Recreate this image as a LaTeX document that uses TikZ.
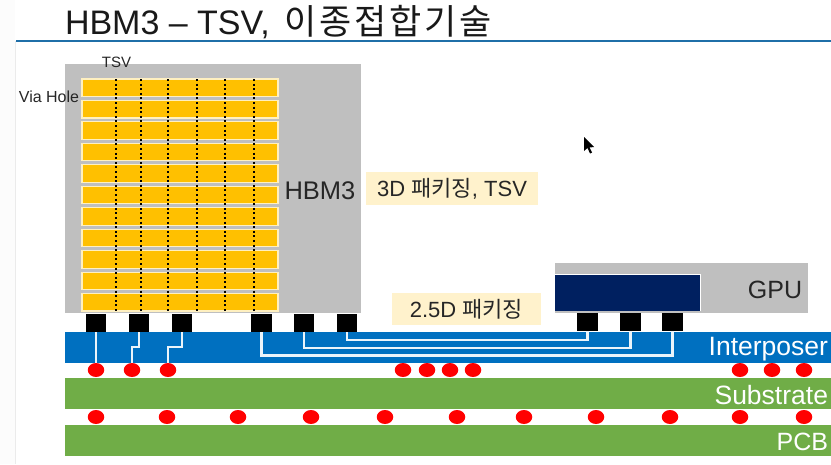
\documentclass[tikz,border=0pt]{standalone}
\usepackage{fontspec}
\setmainfont{Liberation Sans}
\newfontfamily\kr{Noto Sans CJK KR}
\newfontfamily\krw[LetterSpace=8]{Noto Sans CJK KR}
\usetikzlibrary{calc,shapes.geometric}
\definecolor{grayblk}{HTML}{BFBFBF}
\definecolor{gold}{HTML}{FFC000}
\definecolor{goldedge}{HTML}{FFF0C0}
\definecolor{interp}{HTML}{0070C0}
\definecolor{leaf}{HTML}{70AD47}
\definecolor{navy}{HTML}{002060}
\definecolor{cream}{HTML}{FFF2CC}
\definecolor{rule}{HTML}{1F6FA8}
\tikzset{
  plain/.style={inner sep=0pt,outer sep=0pt},
  bump/.style={plain,rectangle,fill=black,minimum width=20.5pt,minimum height=18pt},
  ball/.style={plain,ellipse,fill=red,minimum width=16.5pt,minimum height=14pt},
  wire/.style={draw=white!92!interp,line width=2.2pt},
  tsv/.style={draw=black,line width=2pt,dash pattern=on 2pt off 2.6pt},
  cellrow/.style={draw=goldedge,line width=1.1pt,fill=gold},
  tag/.style={plain,rectangle,fill=cream,text=black!85},
  lab/.style={plain,text=black!85},
  layerlab/.style={plain,anchor=east,text=white,font=\fontsize{26.5}{28}\selectfont}
}
\newcommand{\boxat}[5]{\fill[#5] (#1,#2) rectangle (#3,#4);}
\begin{document}
\begin{tikzpicture}[x=1pt,y=-1pt]
\useasboundingbox (0,0) rectangle (831,464);
\fill[white] (0,0) rectangle (831,464);
\fill[black!1] (0,0) rectangle (15,464);
\draw[black!8,line width=0.8pt] (15.5,41) -- (15.5,464);
% title
\node[plain,anchor=base west,text=black!90,font=\fontsize{34}{38}\selectfont] (title) at (65,34) {HBM3 – TSV,\hspace{15pt}{\krw\fontsize{35}{38}\selectfont 이종접합기술}};
\coordinate (ruleL) at (16,41);
\coordinate (ruleR) at (831,41);
\draw[rule,line width=1.6pt] (ruleL) -- (ruleR);
% HBM block
\boxat{65}{64}{361}{313}{grayblk}
\foreach \y in {79,100.45,...,295}{
  \path[cellrow] (82,\y) rectangle (278,\y+17.5);
}
\foreach \x in {116,141,168,197,225,254}{
  \draw[tsv] (\x,79) -- (\x,312);
}
\node[lab,anchor=center,font=\fontsize{15}{18}\selectfont] (tsvlab) at (116.5,62.5) {TSV};
\node[lab,anchor=center,font=\fontsize{16}{18}\selectfont] (vialab) at (49,97) {Via Hole};
\node[lab,anchor=center,font=\fontsize{25.5}{28}\selectfont] (hbm) at (320,191) {HBM3};
% GPU
\boxat{555}{263}{808}{313}{grayblk}
\fill[navy] (555,274) rectangle (700,311);
\draw[white,line width=0.7pt] (555,274) -- (700,274) -- (700,311);
\node[lab,anchor=center,font=\fontsize{25}{28}\selectfont] (gpu) at (775,289.5) {GPU};
% tags
\node[tag,minimum width=172pt,minimum height=33pt,font=\fontsize{22}{24}\selectfont] (tag3d) at (452,188.5) {3D {\kr 패키징}, TSV};
\node[tag,minimum width=149pt,minimum height=32pt,font=\fontsize{22}{24}\selectfont] (tag25) at (466.5,309) {2.5D {\kr 패키징}};
% layers
\fill[interp] (65,332) rectangle (831,363);
\fill[leaf] (65,378) rectangle (831,409);
\fill[leaf] (65,425) rectangle (831,456);
\node[layerlab] (li) at (828,349.5) {Interposer};
\node[layerlab] (ls) at (828,395.5) {Substrate};
\node[layerlab,font=\fontsize{25}{28}\selectfont] (lp) at (828,442) {PCB};
% micro bumps
\node[bump] (b1) at (96,323) {};
\node[bump] (b2) at (139,323) {};
\node[bump] (b3) at (182,323) {};
\node[bump] (b4) at (261.5,323) {};
\node[bump] (b5) at (304,323) {};
\node[bump] (b6) at (347,323) {};
\node[bump] (g1) at (587.5,322) {};
\node[bump] (g2) at (630.5,322) {};
\node[bump] (g3) at (672.5,322) {};
% solder balls upper
\node[ball] (r1) at (96,370) {};
\node[ball] (r2) at (132,370) {};
\node[ball] (r3) at (168,370) {};
\foreach \n/\x in {m1/403,m2/427,m3/450,m4/473,e1/740,e2/772,e3/804}{
  \node[ball] (\n) at (\x,370) {};
}
\foreach \n/\x in {s1/96,s2/167,s3/238,s4/311,s5/385,s6/457,s7/524,s8/596,s9/670,s10/740,s11/804}{
  \node[ball] (\n) at (\x,417) {};
}
% wires
\draw[wire] (b1.south) -- (b1.south |- r1.north);
\draw[wire] (b2.south) -- ++(0,15) -| (r2.north);
\draw[wire] (b3.south) -- ++(0,15) -| (r3.north);
\draw[wire] (b4.south) -- ++(0,23.5) -| (g3.south);
\draw[wire] (b5.south) -- ++(0,16) -| (g2.south);
\draw[wire] (b6.south) -- ++(0,8) -| (g1.south);
% cursor
\fill[black] (584,137) -- (584,151) -- (587.5,148) -- (590,153.5) -- (592,152.5) -- (589.5,147.5) -- (594,147) -- cycle;
\end{tikzpicture}
\end{document}
